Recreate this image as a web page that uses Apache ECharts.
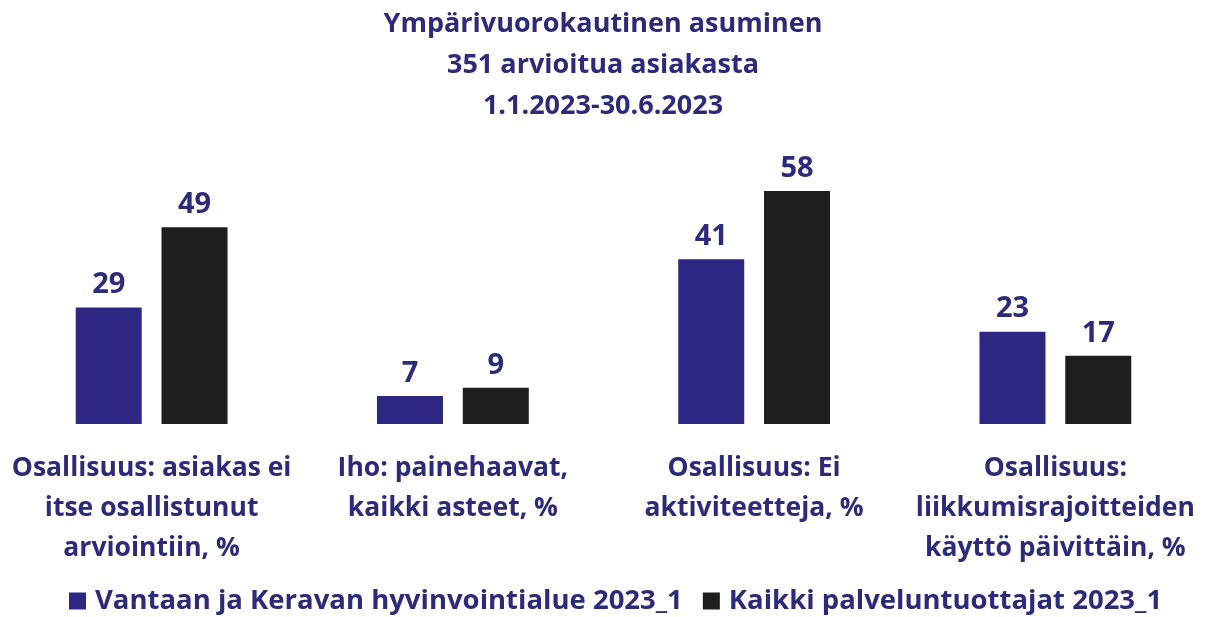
<!DOCTYPE html>
<html>
<head>
<meta charset="utf-8">
<script src="https://cdn.jsdelivr.net/npm/echarts@6/dist/echarts.min.js"></script>
<style>
  html, body { margin: 0; padding: 0; background: #fff; }
  #chart { width: 1206px; height: 617px; }
</style>
</head>
<body>
<div id="chart"></div>
<script>
// kategoriat ja sarjat
const categories = [
  'Osallisuus: asiakas ei\nitse osallistunut\narviointiin, %',
  'Iho: painehaavat,\nkaikki asteet, %',
  'Osallisuus: Ei\naktiviteetteja, %',
  'Osallisuus:\nliikkumisrajoitteiden\nkäyttö päivittäin, %'
]
const seriesNames = ['Vantaan ja Keravan hyvinvointialue 2023_1', 'Kaikki palveluntuottajat 2023_1']
const vantaaValues = [29, 7, 41, 23]
const kaikkiValues = [49, 9, 58, 17]

const textColor = '#2e2a7a'
const font = 'Open Sans'

const chart = echarts.init(document.getElementById('chart'))

const option = {
  backgroundColor: '#fff',
  title: {
    text: 'Ympärivuorokautinen asuminen\n351 arvioitua asiakasta\n1.1.2023-30.6.2023',
    left: 'center',
    top: -1,
    textStyle: {
      color: textColor,
      fontFamily: font,
      fontWeight: 'bold',
      fontSize: 27,
      lineHeight: 41
    }
  },
  legend: {
    bottom: -3,
    left: 64,
    icon: 'rect',
    itemWidth: 17,
    itemHeight: 17,
    itemGap: 20,
    textStyle: {
      color: textColor,
      fontFamily: font,
      fontWeight: 'bold',
      fontSize: 27.5,
      padding: [0, 0, 0, 4]
    },
    data: seriesNames
  },
  grid: {
    left: 1,
    right: -2,
    top: 163,
    bottom: 193
  },
  xAxis: {
    type: 'category',
    data: categories,
    axisLine: { show: false },
    axisTick: { show: false },
    axisLabel: {
      color: textColor,
      fontFamily: font,
      fontWeight: 'bold',
      fontSize: 26.5,
      lineHeight: 40,
      margin: 24,
      interval: 0
    }
  },
  yAxis: {
    type: 'value',
    min: 0,
    max: 65,
    show: false,
    splitLine: { show: false }
  },
  series: [
    {
      name: seriesNames[0],
      type: 'bar',
      data: vantaaValues,
      barWidth: 66,
      barGap: '30%',
      itemStyle: { color: '#2e2683' },
      label: {
        show: true,
        position: 'top',
        distance: 8,
        color: textColor,
        fontFamily: font,
        fontWeight: 'bold',
        fontSize: 29
      }
    },
    {
      name: seriesNames[1],
      type: 'bar',
      data: kaikkiValues,
      barWidth: 66,
      barGap: '30%',
      itemStyle: { color: '#1e1e1e' },
      label: {
        show: true,
        position: 'top',
        distance: 8,
        color: textColor,
        fontFamily: font,
        fontWeight: 'bold',
        fontSize: 29
      }
    }
  ]
}

chart.setOption(option)
</script>
</body>
</html>
